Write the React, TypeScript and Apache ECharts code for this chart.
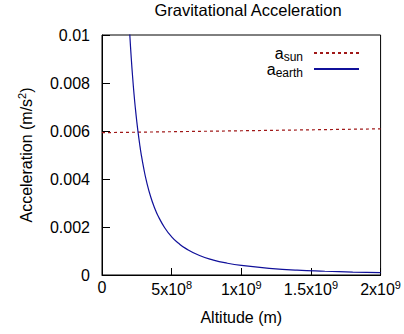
import React, { useEffect, useRef } from "react";
import * as echarts from "echarts";

const chartTitle = "Gravitational Acceleration";
const xAxisName = "Altitude (m)";
const yAxisName = "Acceleration (m/s{s|2})";
const seriesNames = ["sun", "earth"];

// a_sun: nearly flat dotted line
const sunX = [0, 5e8, 1e9, 1.5e9, 2e9];
const sunY = [0.00593, 0.00597, 0.00601, 0.00605, 0.00609];

// a_earth: steep decay
const earthX = [1.9e8, 2.0e8, 2.1e8, 2.2e8, 2.3e8, 2.4e8, 2.5e8, 2.6e8, 2.7e8, 2.8e8, 3.0e8, 3.2e8, 3.5e8, 3.8e8, 4.0e8, 4.5e8, 5.0e8, 5.5e8, 6.0e8, 7.0e8, 8.0e8, 9.0e8, 1.0e9, 1.2e9, 1.4e9, 1.6e9, 1.8e9, 2.0e9];
const earthY = [0.0110, 0.00997, 0.00904, 0.00824, 0.00753, 0.00692, 0.00638, 0.0059, 0.00547, 0.00508, 0.00443, 0.00389, 0.00325, 0.00276, 0.00249, 0.00197, 0.00159, 0.00132, 0.00111, 0.00081, 0.00062, 0.00049, 0.0004, 0.00028, 0.0002, 0.000156, 0.000123, 0.0001];

const xTickValues = [0, 5e8, 1e9, 1.5e9, 2e9];
const xTickLabels = ["0", "5x10{s|8}", "1x10{s|9}", "1.5x10{s|9}", "2x10{s|9}"];

const FONT = "Liberation Sans, Arial, Helvetica, sans-serif";
const FS = 16;

export default function App() {
  const ref = useRef<HTMLDivElement>(null);
  useEffect(() => {
    if (!ref.current) return;
    const chart = echarts.init(ref.current, undefined, { renderer: "svg" });
    const sunData = sunX.map((x, i) => [x, sunY[i]]);
    const earthData = earthX.map((x, i) => [x, earthY[i]]);
    chart.setOption({
      animation: false,
      backgroundColor: "#ffffff",
      textStyle: { fontFamily: FONT },
      title: {
        text: chartTitle,
        left: 243,
        textAlign: "center",
        top: -4,
        textStyle: { fontFamily: FONT, fontSize: 16.5, fontWeight: "normal", color: "#000" },
      },
      legend: {
        orient: "vertical",
        right: 44,
        top: 43,
        padding: 0,
        align: "right",
        itemWidth: 45,
        itemHeight: 10,
        itemGap: -4,
        itemStyle: { opacity: 0 },
        data: seriesNames.map((n) => ({ name: n })),
        formatter: (name: string) => "{a|a}{s|" + name + "}",
        textStyle: {
          fontFamily: FONT,
          color: "#000",
          padding: [0, 6, 0, 0],
          rich: {
            a: { fontSize: FS, fontFamily: FONT, color: "#000", lineHeight: 12 },
            s: { fontSize: 12, fontFamily: FONT, color: "#000", lineHeight: 8, padding: [8, 0, 0, 0] },
          },
        },
      },
      grid: {
        left: 102,
        right: 20,
        top: 35,
        bottom: 59,
        show: true,
        borderColor: "#000",
        borderWidth: 1,
      },
      xAxis: {
        type: "value",
        min: 0,
        max: 2e9,
        interval: 5e8,
        name: xAxisName,
        nameLocation: "middle",
        nameGap: 34,
        nameTextStyle: { fontFamily: FONT, fontSize: FS, color: "#000" },
        axisLine: { lineStyle: { color: "#000", width: 1 } },
        axisTick: { inside: true, length: 7, lineStyle: { color: "#000" } },
        splitLine: { show: false },
        axisLabel: {
          margin: 4,
          color: "#000",
          fontFamily: FONT,
          fontSize: FS,
          formatter: (v: number) => {
            const i = xTickValues.indexOf(v);
            return i >= 0 ? xTickLabels[i] : "";
          },
          rich: {
            s: { fontSize: 11, fontFamily: FONT, color: "#000", padding: [0, 0, 9, 0] },
          },
        },
      },
      yAxis: {
        type: "value",
        min: 0,
        max: 0.01,
        interval: 0.002,
        name: yAxisName,
        nameLocation: "middle",
        nameRotate: 90,
        nameGap: 66,
        nameTextStyle: {
          fontFamily: FONT,
          fontSize: FS,
          color: "#000",
          rich: {
            s: { fontSize: 11, fontFamily: FONT, color: "#000", padding: [0, 0, 9, 0] },
          },
        },
        axisLine: { show: true, lineStyle: { color: "#000", width: 1 } },
        axisTick: { show: true, inside: true, length: 8, lineStyle: { color: "#000" } },
        splitLine: { show: false },
        axisLabel: {
          margin: 12,
          color: "#000",
          fontFamily: FONT,
          fontSize: FS,
          formatter: (v: number) => String(Number(v.toFixed(4))),
        },
      },
      series: [
        {
          name: "sun",
          type: "line",
          data: sunData,
          symbol: "none",
          clip: true,
          lineStyle: { color: "#a01818", width: 1.2, type: [3, 3] },
          itemStyle: { color: "#a01818" },
        },
        {
          name: "earth",
          type: "line",
          data: earthData,
          symbol: "none",
          smooth: true,
          clip: true,
          lineStyle: { color: "#10109a", width: 1.2 },
          itemStyle: { color: "#10109a" },
        },
      ],
    });
    return () => chart.dispose();
  }, []);
  return <div ref={ref} style={{ width: 404, height: 334, position: "absolute", left: 0, top: 0 }} />;
}
